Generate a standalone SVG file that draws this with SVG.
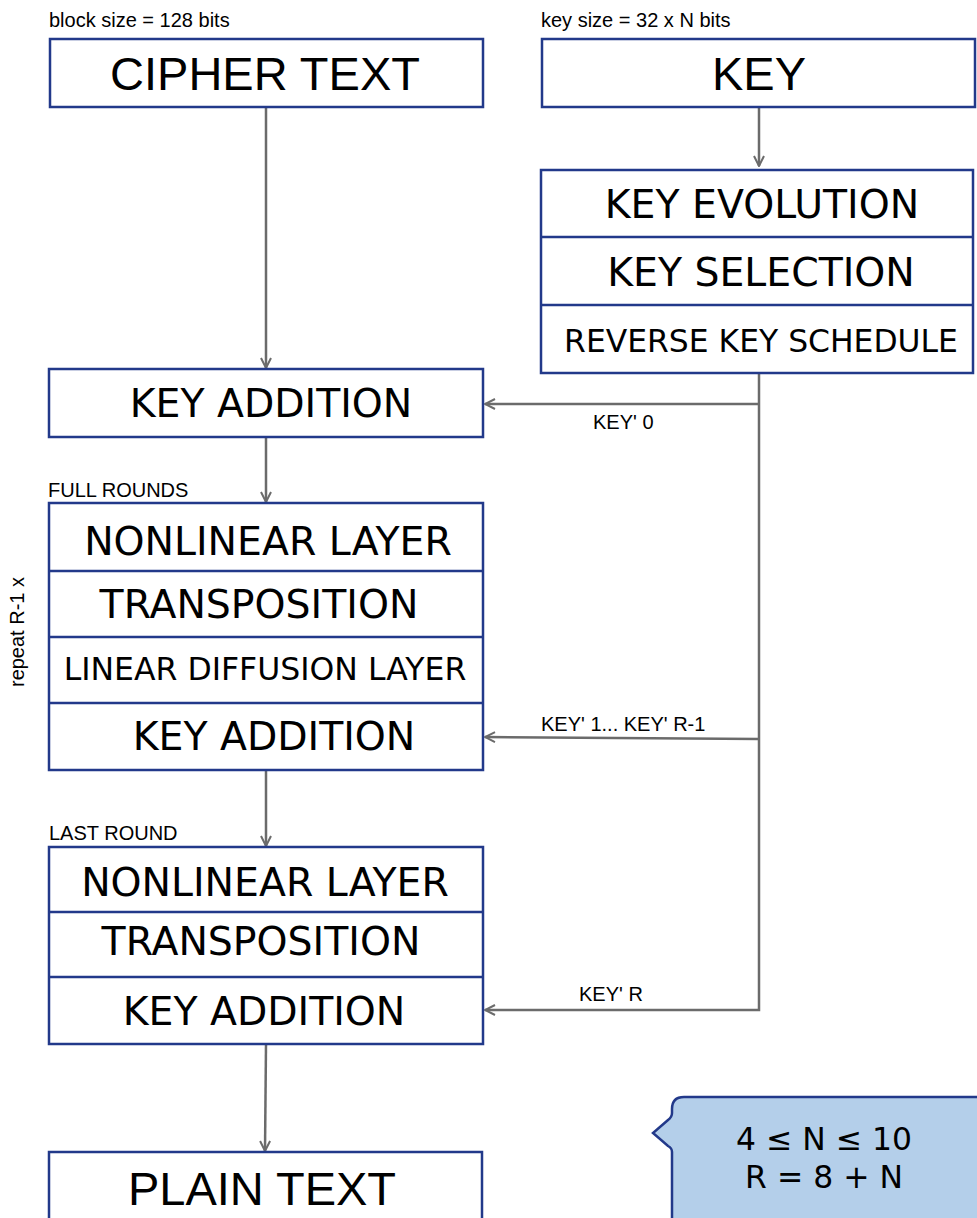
<svg xmlns="http://www.w3.org/2000/svg" width="977" height="1218" viewBox="0 0 977 1218">
  <style>
    .box { fill: #ffffff; stroke: #22398a; stroke-width: 2.5; }
    .div { stroke: #22398a; stroke-width: 2.5; }
    .big { font-family: "DejaVu Sans", sans-serif; fill: #000; text-anchor: middle; }
    .title { font-family: "Liberation Sans", sans-serif; fill: #000; text-anchor: middle; font-size: 47px; }
    .small { font-family: "Liberation Sans", sans-serif; fill: #000; font-size: 20px; }
    .wire { fill: none; stroke: #6b6b6b; stroke-width: 2.5; }
  </style>
  <defs>
    <marker id="arrow" viewBox="0 0 12 12" refX="11" refY="6" markerWidth="12" markerHeight="12" markerUnits="userSpaceOnUse" orient="auto">
      <path d="M1,1 L11,6 L1,11" fill="none" stroke="#6b6b6b" stroke-width="2"/>
    </marker>
  </defs>
  <rect width="977" height="1218" fill="#ffffff"/>

  <!-- annotations -->
  <text class="small" x="49" y="27">block size = 128 bits</text>
  <text class="small" x="541" y="27">key size = 32 x N bits</text>
  <text class="small" x="48" y="497">FULL ROUNDS</text>
  <text class="small" x="49" y="840">LAST ROUND</text>
  <text class="small" transform="translate(24,632) rotate(-90)" text-anchor="middle" font-size="20.5">repeat R-1 x</text>

  <!-- connectors -->
  <g id="connectors">
    <line class="wire" x1="759" y1="107" x2="759" y2="166" marker-end="url(#arrow)"/>
    <line class="wire" x1="266" y1="107" x2="266" y2="368" marker-end="url(#arrow)"/>
    <line class="wire" x1="266" y1="437" x2="266" y2="502" marker-end="url(#arrow)"/>
    <line class="wire" x1="266" y1="770" x2="266" y2="846" marker-end="url(#arrow)"/>
    <line class="wire" x1="266" y1="1044" x2="265" y2="1151" marker-end="url(#arrow)"/>
    <polyline class="wire" points="759,373 759,1010 485,1010" marker-end="url(#arrow)"/>
    <line class="wire" x1="759" y1="404" x2="485" y2="404" marker-end="url(#arrow)"/>
    <line class="wire" x1="759" y1="739" x2="485" y2="737" marker-end="url(#arrow)"/>
    <text class="small" x="593" y="429">KEY' 0</text>
    <text class="small" x="541" y="731">KEY' 1... KEY' R-1</text>
    <text class="small" x="579" y="1001">KEY' R</text>
  </g>

  <g id="cipher-text">
    <rect class="box" x="50" y="39" width="433" height="68"/>
    <text class="title" x="265" y="90">CIPHER TEXT</text>
  </g>

  <g id="key">
    <rect class="box" x="542" y="39" width="433" height="68"/>
    <text class="title" x="759" y="90">KEY</text>
  </g>

  <g id="key-schedule">
    <rect class="box" x="541" y="170" width="432" height="203"/>
    <line class="div" x1="541" y1="237" x2="973" y2="237"/>
    <line class="div" x1="541" y1="305" x2="973" y2="305"/>
    <text class="big" x="762" y="218" font-size="39.4">KEY EVOLUTION</text>
    <text class="big" x="761" y="286" font-size="39.4">KEY SELECTION</text>
    <text class="big" x="761" y="352" font-size="31.4">REVERSE KEY SCHEDULE</text>
  </g>

  <g id="initial-key-addition">
    <rect class="box" x="49" y="369" width="434" height="68"/>
    <text class="big" x="271" y="417" font-size="39.4">KEY ADDITION</text>
  </g>

  <g id="full-round">
    <rect class="box" x="49" y="503" width="434" height="267"/>
    <line class="div" x1="49" y1="571" x2="483" y2="571"/>
    <line class="div" x1="49" y1="637" x2="483" y2="637"/>
    <line class="div" x1="49" y1="703" x2="483" y2="703"/>
    <text class="big" x="268" y="555" font-size="39.4">NONLINEAR LAYER</text>
    <text class="big" x="259" y="618" font-size="39.4">TRANSPOSITION</text>
    <text class="big" x="265" y="680" font-size="31.5">LINEAR DIFFUSION LAYER</text>
    <text class="big" x="274" y="750" font-size="39.4">KEY ADDITION</text>
  </g>

  <g id="last-round">
    <rect class="box" x="49" y="847" width="434" height="197"/>
    <line class="div" x1="49" y1="912" x2="483" y2="912"/>
    <line class="div" x1="49" y1="977" x2="483" y2="977"/>
    <text class="big" x="265" y="896" font-size="39.4">NONLINEAR LAYER</text>
    <text class="big" x="261" y="955" font-size="39.4">TRANSPOSITION</text>
    <text class="big" x="264" y="1025" font-size="39.4">KEY ADDITION</text>
  </g>

  <g id="plain-text">
    <rect class="box" x="49" y="1152" width="433" height="80"/>
    <text class="title" x="262" y="1205">PLAIN TEXT</text>
  </g>

  <g id="note">
    <path d="M684,1097 L1000,1097 L1000,1240 L672,1240 L672,1152 Q672,1148 668,1146 L653,1133 L668,1120 Q672,1117 672,1113 L672,1109 Q672,1097 684,1097 Z" fill="#b4cfea" stroke="#22398a" stroke-width="2.5"/>
    <text class="big" x="824" y="1150" font-size="31.4">4 ≤ N ≤ 10</text>
    <text class="big" x="824" y="1188" font-size="31.4">R = 8 + N</text>
  </g>
</svg>
